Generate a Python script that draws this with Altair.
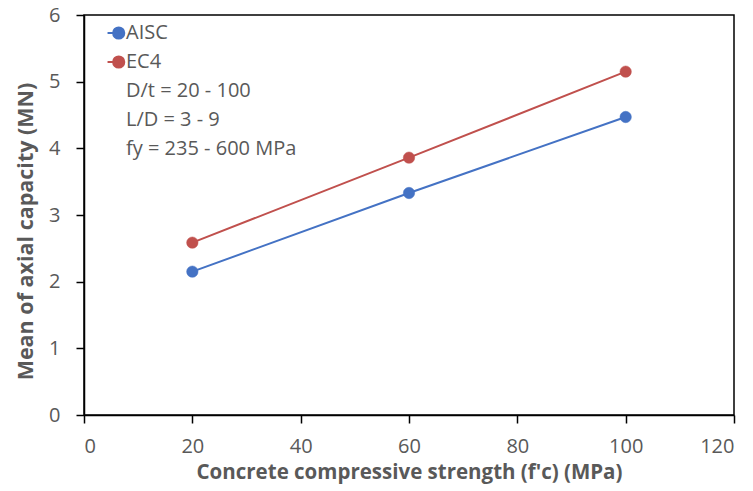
import altair as alt
import pandas as pd

# Mean axial capacity (MN) against concrete strength f'c (MPa)
fc = [20, 60, 100]
aisc = [2.15, 3.33, 4.47]
ec4 = [2.585, 3.86, 5.15]
series = ["AISC", "EC4"]
# parameter ranges listed under the series in the key
notes = ["D/t = 20 - 100", "L/D = 3 - 9", "fy = 235 - 600 MPa"]
x_ticks = [0, 20, 40, 60, 80, 100, 120]
y_ticks = [0, 1, 2, 3, 4, 5, 6]

colors = ["#4472C4", "#C0504D"]
gray = "#595959"
font = "Open Sans"

df = pd.DataFrame(
    {
        "fc": fc * 2,
        "cap": aisc + ec4,
        "code": [series[0]] * len(fc) + [series[1]] * len(fc),
    }
)

key_domain = series + notes
key_range = colors + ["transparent"] * len(notes)

# line segment ending in a filled dot, used as the key symbol
key_symbol = (
    "M-0.94,0L0.3,0"
    "M0.92,0A0.62,0.62 0 1,1 -0.32,0A0.62,0.62 0 1,1 0.92,0Z"
)

legend = alt.Legend(
    title=None,
    orient="none",
    legendX=22,
    legendY=8,
    padding=0,
    symbolType=key_symbol,
    symbolSize=324,
    symbolStrokeWidth=2,
    labelFont=font,
    labelFontSize=20,
    labelColor=gray,
    labelOffset=0,
    labelLimit=400,
    rowPadding=9,
)

stroke_scale = alt.Scale(domain=key_domain, range=key_range)

x_enc = alt.X(
    "fc:Q",
    scale=alt.Scale(domain=[0, 120], nice=False),
    axis=alt.Axis(
        values=x_ticks,
        title="Concrete compressive strength (f'c) (MPa)",
        titleX=325,
        titleY=57,
        titleBaseline="middle",
        labelPadding=13,
    ),
)
y_enc = alt.Y(
    "cap:Q",
    scale=alt.Scale(domain=[0, 6], nice=False),
    axis=alt.Axis(
        values=y_ticks,
        title="Mean of axial capacity (MN)",
        titleX=-58,
        titleY=216,
        titleAngle=-90,
        titleAlign="center",
        titleBaseline="middle",
        titleFontSize=21.5,
        labelPadding=16,
    ),
)

lines = (
    alt.Chart(df)
    .mark_line(strokeWidth=2)
    .encode(
        x=x_enc,
        y=y_enc,
        stroke=alt.Stroke("code:N", scale=stroke_scale, legend=legend),
    )
)

points = (
    alt.Chart(df)
    .mark_point(filled=True, size=130, opacity=1, strokeWidth=0.5)
    .encode(
        x=x_enc,
        y=y_enc,
        fill=alt.Fill("code:N", scale=stroke_scale, legend=legend),
        stroke=alt.Stroke("code:N", scale=stroke_scale, legend=legend),
    )
)

chart = (
    alt.layer(lines, points)
    .properties(
        width=650,
        height=400,
        autosize=alt.AutoSizeParams(type="none"),
        padding={"left": 84, "top": 15, "right": 19, "bottom": 76},
        background="white",
    )
    .configure_view(stroke="black", strokeWidth=1.5)
    .configure_axis(
        grid=False,
        domainColor="black",
        domainWidth=1.5,
        tickColor="black",
        tickWidth=1.5,
        tickSize=8,
        labelFont=font,
        labelFontSize=20,
        labelColor=gray,
        titleFont=font,
        titleFontSize=20.5,
        titleFontWeight="bold",
        titleColor=gray,
    )
)

chart.save("out.html", embed_options={"renderer": "svg", "actions": False})
